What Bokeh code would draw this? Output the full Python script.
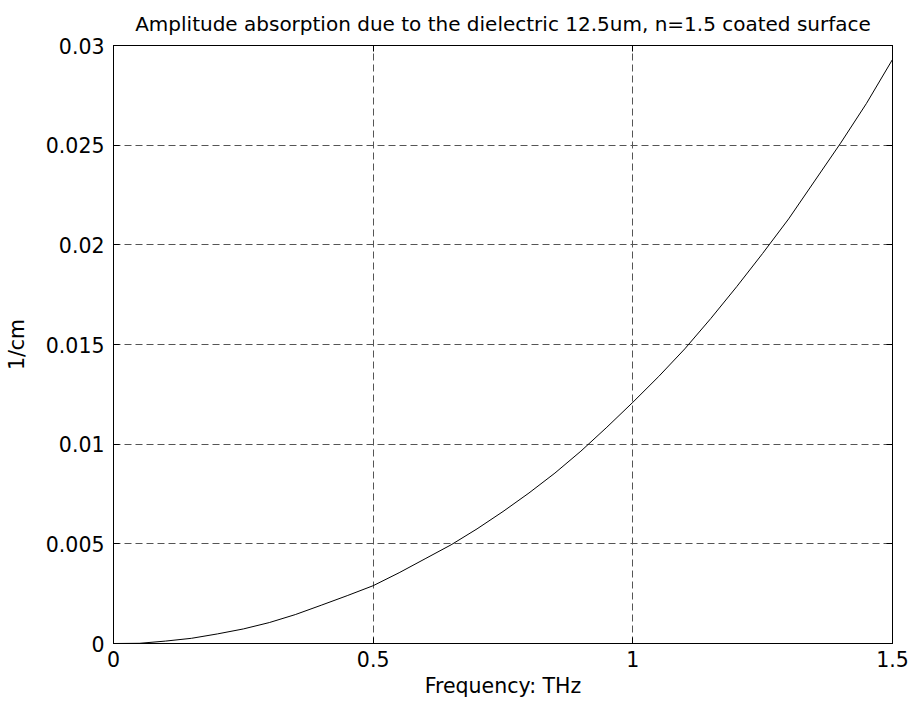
from bokeh.plotting import figure
from bokeh.models import FixedTicker, LinearAxis, Range1d
from bokeh.embed import file_html
from bokeh.resources import INLINE

# Data
freq_thz = [0.0, 0.05, 0.1, 0.15, 0.2, 0.25, 0.3, 0.35, 0.4, 0.45, 0.5,
            0.55, 0.6, 0.65, 0.7, 0.75, 0.8, 0.85, 0.9, 0.95, 1.0,
            1.05, 1.1, 1.15, 1.2, 1.25, 1.3, 1.35, 1.4, 1.45, 1.5]
absorption = [0.0, 0.00001, 0.00012, 0.00026, 0.00048, 0.00073, 0.00105, 0.00145, 0.00192, 0.0024, 0.0029,
              0.00355, 0.00425, 0.00495, 0.00575, 0.00662, 0.00755, 0.00855, 0.00965, 0.01085, 0.0121,
              0.0134, 0.01478, 0.0163, 0.0179, 0.01957, 0.0213, 0.0232, 0.0251, 0.0271, 0.0293]

x_ticks = [0, 0.5, 1, 1.5]
x_tick_labels = ["0", "0.5", "1", "1.5"]
y_ticks = [0, 0.005, 0.01, 0.015, 0.02, 0.025, 0.03]
y_tick_labels = ["0", "0.005", "0.01", "0.015", "0.02", "0.025", "0.03"]

title_text = "Amplitude absorption due to the dielectric 12.5um, n=1.5 coated surface"
x_label = "Frequency: THz"
y_label = "1/cm"

FONT = "DejaVu Sans"
FS = "20.5px"

p = figure(width=912, height=707, output_backend="svg", toolbar_location=None,
           x_range=Range1d(0, 1.5), y_range=Range1d(0, 0.03),
           x_axis_label=x_label, y_axis_label=y_label,
           min_border_left=113, min_border_right=20, min_border_top=44, min_border_bottom=64)

p.title.text = title_text
p.title.align = "center"
p.title.text_font = FONT
p.title.text_font_size = "20px"
p.title.text_font_style = "normal"
p.title.text_color = "black"
p.title.text_line_height = 0.9
p.title.standoff = 19

p.background_fill_color = "white"
p.border_fill_color = "white"
p.outline_line_color = "black"
p.outline_line_width = 1

for ax, ticks, labels in ((p.xaxis[0], x_ticks, x_tick_labels), (p.yaxis[0], y_ticks, y_tick_labels)):
    ax.ticker = FixedTicker(ticks=ticks)
    ax.major_label_overrides = {t: l for t, l in zip(ticks, labels)}
    ax.major_tick_in = 6
    ax.major_tick_out = 0
    ax.minor_tick_line_color = None
    ax.axis_line_color = "black"
    ax.major_tick_line_color = "black"
    ax.major_label_text_font = FONT
    ax.major_label_text_font_size = FS
    ax.major_label_text_color = "black"
    ax.axis_label_text_font = FONT
    ax.axis_label_text_font_size = FS
    ax.axis_label_text_font_style = "normal"
    ax.axis_label_text_color = "black"

p.xaxis[0].major_label_standoff = 7
p.xaxis[0].axis_label_standoff = 4
p.yaxis[0].major_label_standoff = 9
p.yaxis[0].axis_label_standoff = 14

# mirrored inward ticks on top and right (no labels)
top_ax = LinearAxis(ticker=FixedTicker(ticks=x_ticks), major_tick_in=6, major_tick_out=0,
                    minor_tick_line_color=None, major_label_text_font_size="0px",
                    major_label_standoff=0, axis_line_color="black")
right_ax = LinearAxis(ticker=FixedTicker(ticks=y_ticks), major_tick_in=6, major_tick_out=0,
                      minor_tick_line_color=None, major_label_text_font_size="0px",
                      major_label_standoff=0, axis_line_color="black")
p.add_layout(top_ax, "above")
p.add_layout(right_ax, "right")

for g, ticks in ((p.xgrid[0], x_ticks), (p.ygrid[0], y_ticks)):
    g.ticker = FixedTicker(ticks=ticks)
    g.grid_line_color = "#555555"
    g.grid_line_dash = "7 4"
    g.grid_line_width = 1

p.line(freq_thz, absorption, line_color="black", line_width=1)

open("out.html", "w").write(file_html(p, INLINE))
